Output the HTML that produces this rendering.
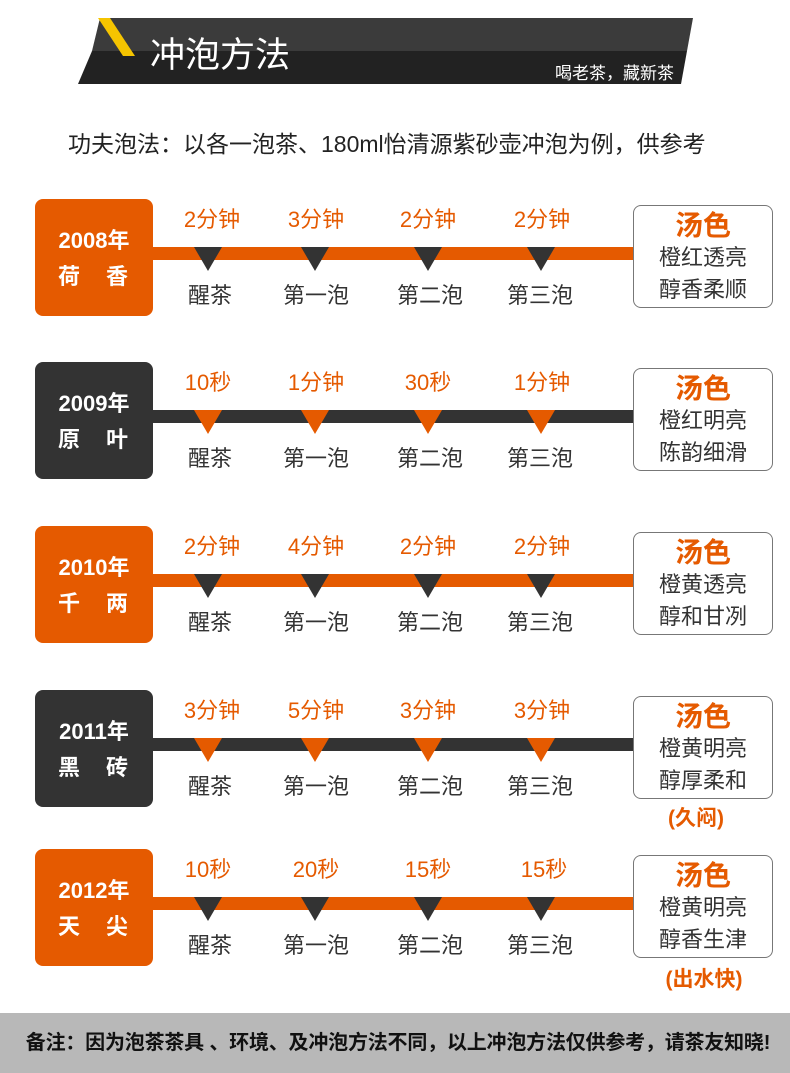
<!DOCTYPE html>
<html><head><meta charset="utf-8"><style>
*{margin:0;padding:0;box-sizing:border-box}
body{width:790px;height:1073px;background:#fff;position:relative;overflow:hidden;font-family:"Liberation Sans","Noto Sans CJK SC",sans-serif}
.a{position:absolute}
.box{position:absolute;left:35px;width:118px;height:117px;border-radius:8px;color:#fff;font-weight:bold;text-align:center}
.box .y{position:absolute;top:28px;width:100%;font-size:22px;line-height:28px}
.box .n{position:absolute;top:64px;width:100%;font-size:22px;line-height:28px;letter-spacing:2px}
.bar{position:absolute;left:150px;width:485px;height:13px}
.t{position:absolute;width:100px;margin-left:-50px;text-align:center;font-size:22px;color:#e55a00;line-height:26px}
.l{position:absolute;width:100px;margin-left:-50px;text-align:center;font-size:22px;color:#333;line-height:26px}
.tri{position:absolute;width:0;height:0;border-left:14px solid transparent;border-right:14px solid transparent;margin-left:-14px}
.rb{position:absolute;left:633px;width:140px;height:103px;border:1.5px solid #777;border-radius:8px;text-align:center;background:#fff}
.rb .h{font-size:28px;font-weight:bold;color:#e55a00;line-height:30px;margin-top:5px}
.rb .d{font-size:22px;color:#333;line-height:31px;margin-top:1px}
.ex{position:absolute;left:633px;width:140px;text-align:center;font-size:21px;font-weight:bold;color:#e55a00}
.O{background:#e55a00}.D{background:#333}
</style></head><body>
<svg class="a" style="left:0;top:0" width="790" height="100">
<polygon points="100,18 693,18 687,51 92,51" fill="#3b3b3b"/>
<polygon points="92,51 687,51 681,84 78,84" fill="#222"/>
<polygon points="98,18 110,18 135,56 123,56" fill="#f5c400"/>
<text x="150" y="67" font-size="35" fill="#fff" font-family="Liberation Sans,Noto Sans CJK SC,sans-serif">冲泡方法</text>
<text x="674" y="79" font-size="17" fill="#fff" text-anchor="end" font-family="Liberation Sans,Noto Sans CJK SC,sans-serif">喝老茶，藏新茶</text>
</svg>
<div class="a" style="left:68px;top:129px;font-size:23px;color:#222;line-height:30px">功夫泡法：以各一泡茶、180ml怡清源紫砂壶冲泡为例，供参考</div>

<!-- row1 -->
<div class="bar O" style="top:247px"></div>
<div class="box O" style="top:199px"><div class="y">2008年</div><div class="n">荷　香</div></div>
<div class="t" style="left:212px;top:207px">2分钟</div><div class="t" style="left:316px;top:207px">3分钟</div><div class="t" style="left:428px;top:207px">2分钟</div><div class="t" style="left:542px;top:207px">2分钟</div>
<div class="tri" style="left:208px;top:247px;border-top:24px solid #333"></div><div class="tri" style="left:315px;top:247px;border-top:24px solid #333"></div><div class="tri" style="left:428px;top:247px;border-top:24px solid #333"></div><div class="tri" style="left:541px;top:247px;border-top:24px solid #333"></div>
<div class="l" style="left:210px;top:283px">醒茶</div><div class="l" style="left:316px;top:283px">第一泡</div><div class="l" style="left:430px;top:283px">第二泡</div><div class="l" style="left:540px;top:283px">第三泡</div>
<div class="rb" style="top:205px"><div class="h">汤色</div><div class="d">橙红透亮</div><div class="d">醇香柔顺</div></div>

<!-- row2 -->
<div class="bar D" style="top:410px"></div>
<div class="box D" style="top:362px"><div class="y">2009年</div><div class="n">原　叶</div></div>
<div class="t" style="left:208px;top:370px">10秒</div><div class="t" style="left:316px;top:370px">1分钟</div><div class="t" style="left:428px;top:370px">30秒</div><div class="t" style="left:542px;top:370px">1分钟</div>
<div class="tri" style="left:208px;top:410px;border-top:24px solid #e55a00"></div><div class="tri" style="left:315px;top:410px;border-top:24px solid #e55a00"></div><div class="tri" style="left:428px;top:410px;border-top:24px solid #e55a00"></div><div class="tri" style="left:541px;top:410px;border-top:24px solid #e55a00"></div>
<div class="l" style="left:210px;top:446px">醒茶</div><div class="l" style="left:316px;top:446px">第一泡</div><div class="l" style="left:430px;top:446px">第二泡</div><div class="l" style="left:540px;top:446px">第三泡</div>
<div class="rb" style="top:368px"><div class="h">汤色</div><div class="d">橙红明亮</div><div class="d">陈韵细滑</div></div>

<!-- row3 -->
<div class="bar O" style="top:574px"></div>
<div class="box O" style="top:526px"><div class="y">2010年</div><div class="n">千　两</div></div>
<div class="t" style="left:212px;top:534px">2分钟</div><div class="t" style="left:316px;top:534px">4分钟</div><div class="t" style="left:428px;top:534px">2分钟</div><div class="t" style="left:542px;top:534px">2分钟</div>
<div class="tri" style="left:208px;top:574px;border-top:24px solid #333"></div><div class="tri" style="left:315px;top:574px;border-top:24px solid #333"></div><div class="tri" style="left:428px;top:574px;border-top:24px solid #333"></div><div class="tri" style="left:541px;top:574px;border-top:24px solid #333"></div>
<div class="l" style="left:210px;top:610px">醒茶</div><div class="l" style="left:316px;top:610px">第一泡</div><div class="l" style="left:430px;top:610px">第二泡</div><div class="l" style="left:540px;top:610px">第三泡</div>
<div class="rb" style="top:532px"><div class="h">汤色</div><div class="d">橙黄透亮</div><div class="d">醇和甘冽</div></div>

<!-- row4 -->
<div class="bar D" style="top:738px"></div>
<div class="box D" style="top:690px"><div class="y">2011年</div><div class="n">黑　砖</div></div>
<div class="t" style="left:212px;top:698px">3分钟</div><div class="t" style="left:316px;top:698px">5分钟</div><div class="t" style="left:428px;top:698px">3分钟</div><div class="t" style="left:542px;top:698px">3分钟</div>
<div class="tri" style="left:208px;top:738px;border-top:24px solid #e55a00"></div><div class="tri" style="left:315px;top:738px;border-top:24px solid #e55a00"></div><div class="tri" style="left:428px;top:738px;border-top:24px solid #e55a00"></div><div class="tri" style="left:541px;top:738px;border-top:24px solid #e55a00"></div>
<div class="l" style="left:210px;top:774px">醒茶</div><div class="l" style="left:316px;top:774px">第一泡</div><div class="l" style="left:430px;top:774px">第二泡</div><div class="l" style="left:540px;top:774px">第三泡</div>
<div class="rb" style="top:696px"><div class="h">汤色</div><div class="d">橙黄明亮</div><div class="d">醇厚柔和</div></div>
<div class="ex" style="top:802px;left:626px">(久闷)</div>

<!-- row5 -->
<div class="bar O" style="top:897px"></div>
<div class="box O" style="top:849px"><div class="y">2012年</div><div class="n">天　尖</div></div>
<div class="t" style="left:208px;top:857px">10秒</div><div class="t" style="left:316px;top:857px">20秒</div><div class="t" style="left:428px;top:857px">15秒</div><div class="t" style="left:544px;top:857px">15秒</div>
<div class="tri" style="left:208px;top:897px;border-top:24px solid #333"></div><div class="tri" style="left:315px;top:897px;border-top:24px solid #333"></div><div class="tri" style="left:428px;top:897px;border-top:24px solid #333"></div><div class="tri" style="left:541px;top:897px;border-top:24px solid #333"></div>
<div class="l" style="left:210px;top:933px">醒茶</div><div class="l" style="left:316px;top:933px">第一泡</div><div class="l" style="left:430px;top:933px">第二泡</div><div class="l" style="left:540px;top:933px">第三泡</div>
<div class="rb" style="top:855px"><div class="h">汤色</div><div class="d">橙黄明亮</div><div class="d">醇香生津</div></div>
<div class="ex" style="top:963px;left:634px">(出水快)</div>

<div class="a" style="left:0;top:1013px;width:790px;height:60px;background:#b8b8b8"></div>
<div class="a" style="left:0;top:1030px;width:796px;text-align:center;font-size:20px;font-weight:bold;color:#111;line-height:26px;letter-spacing:-0.2px">备注：因为泡茶茶具 、环境、及冲泡方法不同，以上冲泡方法仅供参考，请茶友知晓!</div>
</body></html>
